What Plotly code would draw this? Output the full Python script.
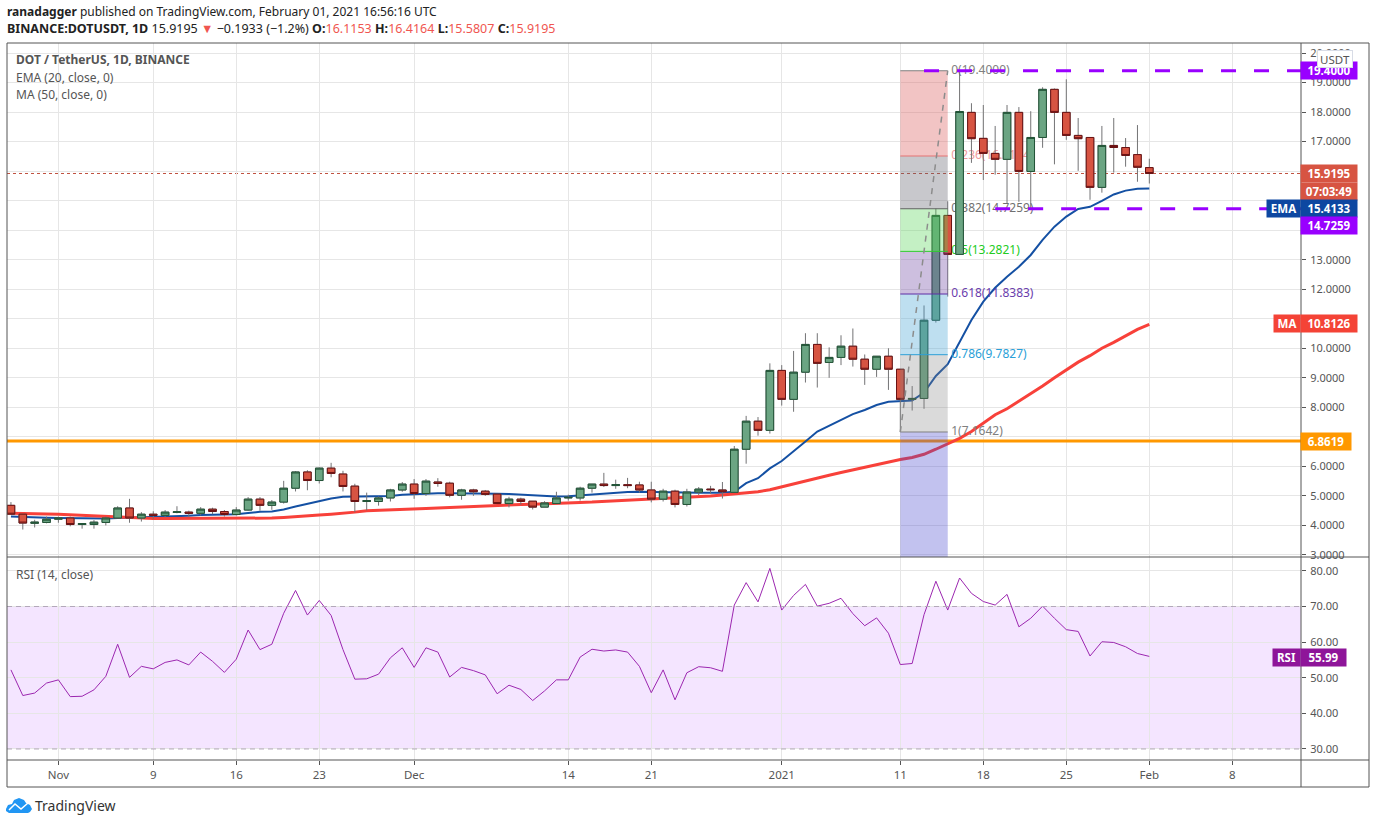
import pandas as pd
import plotly.graph_objects as go

# daily candles
dates = pd.date_range("2020-10-28", "2021-02-01", freq="D")

open_ = [4.68, 4.38, 4.07, 4.10, 4.21, 4.25, 4.03, 4.03, 4.10, 4.25,
         4.59, 4.25, 4.38, 4.34, 4.44, 4.45, 4.41, 4.55, 4.47, 4.37,
         4.52, 4.89, 4.68, 4.79, 5.26, 5.81, 5.52, 5.94, 5.74, 5.33,
         4.81, 4.81, 4.93, 5.20, 5.40, 5.08, 5.47, 5.43, 5.02, 5.20,
         5.16, 5.06, 4.74, 4.89, 4.82, 4.62, 4.74, 4.93, 4.93, 5.26,
         5.40, 5.35, 5.38, 5.37, 5.20, 4.89, 5.16, 4.71, 5.13, 5.23,
         5.20, 5.12, 6.58, 7.53, 7.22, 9.25, 8.27, 9.19, 10.13, 9.52,
         9.69, 10.07, 9.63, 9.29, 9.73, 9.29, 8.27, 8.30, 10.95, 14.50,
         13.18, 17.99, 17.11, 16.60, 16.40, 17.99, 15.99, 17.14, 18.77, 17.99,
         17.21, 17.14, 15.45, 16.87, 16.80, 16.56, 16.12]
high = [4.79, 4.38, 4.19, 4.30, 4.30, 4.30, 4.08, 4.18, 4.30, 4.65,
        4.90, 4.45, 4.48, 4.52, 4.65, 4.50, 4.62, 4.60, 4.52, 4.62,
        4.96, 4.96, 4.86, 5.51, 5.84, 5.87, 5.96, 6.12, 5.85, 5.41,
        5.11, 4.98, 5.24, 5.47, 5.57, 5.57, 5.60, 5.48, 5.24, 5.24,
        5.20, 5.06, 4.97, 4.94, 4.82, 4.82, 5.14, 5.04, 5.31, 5.40,
        5.78, 5.55, 5.61, 5.48, 5.48, 5.24, 5.21, 5.24, 5.30, 5.34,
        5.47, 6.69, 7.71, 7.67, 9.49, 9.43, 9.91, 10.51, 10.51, 10.03,
        10.44, 10.67, 9.79, 9.73, 10.00, 9.29, 8.72, 11.45, 14.73, 14.98,
        19.40, 18.30, 18.24, 17.53, 18.24, 18.17, 18.03, 18.84, 18.80, 19.11,
        17.80, 17.14, 17.53, 17.80, 17.12, 17.56, 16.42]
low = [4.38, 3.86, 3.93, 4.07, 4.09, 3.97, 3.89, 3.89, 4.00, 4.25,
       4.09, 4.13, 4.22, 4.27, 4.41, 4.28, 4.34, 4.38, 4.30, 4.34,
       4.50, 4.50, 4.53, 4.74, 5.15, 5.19, 5.42, 5.63, 5.15, 4.45,
       4.51, 4.67, 4.81, 5.14, 4.90, 5.00, 5.31, 4.95, 4.87, 5.00,
       5.00, 4.74, 4.61, 4.70, 4.54, 4.62, 4.74, 4.84, 4.84, 5.11,
       5.30, 5.24, 5.26, 5.11, 4.78, 4.81, 4.61, 4.64, 5.03, 5.07,
       4.91, 5.12, 6.09, 7.04, 7.11, 8.06, 7.85, 8.84, 8.67, 9.00,
       9.43, 9.38, 8.76, 9.03, 8.59, 7.16, 7.89, 7.95, 10.87, 11.75,
       13.18, 16.28, 15.70, 15.88, 14.91, 14.96, 14.74, 16.79, 16.23, 17.06,
       16.01, 15.03, 15.27, 15.95, 16.15, 15.64, 15.58]
close = [4.38, 4.08, 4.11, 4.21, 4.25, 4.03, 4.06, 4.11, 4.25, 4.59,
         4.25, 4.38, 4.34, 4.45, 4.46, 4.41, 4.55, 4.47, 4.37, 4.52,
         4.89, 4.68, 4.79, 5.26, 5.81, 5.52, 5.94, 5.76, 5.32, 4.81,
         4.84, 4.93, 5.20, 5.40, 5.08, 5.50, 5.42, 5.02, 5.20, 5.14,
         5.05, 4.74, 4.89, 4.81, 4.62, 4.76, 4.93, 4.95, 5.26, 5.40,
         5.35, 5.38, 5.35, 5.20, 4.89, 5.16, 4.71, 5.13, 5.23, 5.21,
         5.14, 6.58, 7.53, 7.22, 9.25, 8.27, 9.19, 10.13, 9.49, 9.69,
         10.07, 9.63, 9.29, 9.73, 9.29, 8.27, 8.30, 10.95, 14.50, 13.18,
         18.02, 17.10, 16.60, 16.40, 17.99, 15.99, 17.14, 18.77, 17.99, 17.21,
         17.10, 15.45, 16.87, 16.80, 16.53, 16.13, 15.92]

ema20 = [4.30, 4.28, 4.27, 4.26, 4.25, 4.24, 4.23, 4.22, 4.23, 4.25,
         4.26, 4.27, 4.28, 4.30, 4.31, 4.33, 4.35, 4.36, 4.37, 4.38,
         4.42, 4.46, 4.47, 4.54, 4.64, 4.73, 4.84, 4.91, 4.97, 4.98,
         4.97, 4.98, 5.00, 5.04, 5.06, 5.08, 5.09, 5.09, 5.09, 5.09,
         5.08, 5.07, 5.06, 5.04, 5.02, 4.99, 4.98, 4.99, 5.02, 5.05,
         5.07, 5.11, 5.13, 5.14, 5.13, 5.12, 5.11, 5.11, 5.11, 5.11,
         5.11, 5.14, 5.43, 5.60, 5.93, 6.18, 6.50, 6.84, 7.18, 7.38,
         7.59, 7.77, 7.91, 8.08, 8.19, 8.20, 8.23, 8.50, 9.06, 9.46,
         10.20, 10.96, 11.58, 12.05, 12.42, 12.76, 13.16, 13.67, 14.12, 14.46,
         14.72, 14.79, 14.99, 15.21, 15.34, 15.40, 15.41]
ma50 = [4.41, 4.41, 4.40, 4.39, 4.38, 4.36, 4.34, 4.32, 4.29, 4.27,
        4.25, 4.24, 4.23, 4.23, 4.23, 4.24, 4.24, 4.24, 4.25, 4.25,
        4.25, 4.25, 4.25, 4.27, 4.29, 4.32, 4.35, 4.38, 4.41, 4.45,
        4.50, 4.51, 4.53, 4.54, 4.56, 4.57, 4.59, 4.61, 4.63, 4.65,
        4.67, 4.69, 4.70, 4.71, 4.72, 4.74, 4.75, 4.77, 4.78, 4.79,
        4.81, 4.82, 4.84, 4.87, 4.90, 4.91, 4.93, 4.95, 4.97, 5.00,
        5.03, 5.07, 5.10, 5.14, 5.21, 5.31, 5.41, 5.52, 5.62, 5.70,
        5.79, 5.88, 5.97, 6.06, 6.15, 6.23, 6.30, 6.41, 6.58, 6.76,
        6.95, 7.18, 7.46, 7.75, 7.95, 8.20, 8.45, 8.72, 9.00, 9.27,
        9.53, 9.75, 10.00, 10.20, 10.43, 10.64, 10.81]
rsi = [52.2, 45.0, 45.7, 48.5, 49.4, 44.7, 44.8, 46.6, 50.4, 59.4,
       50.1, 53.2, 52.5, 54.3, 55.0, 53.6, 57.2, 54.6, 51.5, 55.2,
       63.4, 57.9, 59.4, 68.1, 74.5, 67.6, 71.7, 67.5, 57.9, 49.6,
       49.7, 51.0, 55.6, 58.4, 52.9, 58.4, 57.2, 50.2, 52.9, 52.0,
       50.8, 45.5, 47.9, 46.7, 43.6, 46.3, 49.4, 49.4, 55.8, 58.0,
       57.5, 57.8, 57.2, 53.2, 45.8, 52.2, 43.8, 51.4, 53.1, 52.8,
       51.8, 70.4, 76.7, 71.3, 80.7, 69.0, 73.1, 76.2, 70.1, 70.9,
       72.3, 68.0, 64.6, 66.8, 62.5, 53.7, 54.0, 67.7, 77.1, 69.0,
       78.0, 73.7, 71.4, 70.4, 73.4, 64.3, 66.7, 70.1, 66.7, 63.5,
       63.0, 56.1, 60.1, 59.9, 58.7, 56.8, 55.99]

# fib retracement drawn by the author
fib_start = "2021-01-11"
fib_end = "2021-01-15"
fib_label_at = "2021-01-15 07:00"
fib_ratios = ["0", "0.236", "0.382", "0.5", "0.618", "0.786", "1"]
fib_prices = [19.4, 16.5124, 14.7259, 13.2821, 11.8383, 9.7827, 7.1642]
fib_line_colors = ["#808080", "#E57373", "#606060", "#2ECC2E", "#5E2CA5", "#2A9FD8", "#808080"]
fib_text_colors = ["#808080", "#F09A9A", "#707070", "#22CC22", "#6A3DAD", "#2A9FD8", "#808080"]
fib_band_colors = ["rgba(218,86,86,.35)", "rgba(98,98,109,.35)", "rgba(87,212,87,.35)",
                   "rgba(112,73,164,.35)", "rgba(69,164,212,.35)", "rgba(132,132,132,.3)",
                   "rgba(69,69,206,.33)"]

resistance = 19.4
resistance_start = "2021-01-13"
support = 14.7259
support_start = "2021-01-19"
horizontal = 6.8619

price_ticks = list(range(3, 21))
rsi_ticks = [30, 40, 50, 60, 70, 80]
x_tickvals = ["2020-11-01", "2020-11-09", "2020-11-16", "2020-11-23", "2020-12-01", "2020-12-14",
              "2020-12-21", "2021-01-01", "2021-01-11", "2021-01-18", "2021-01-25", "2021-02-01",
              "2021-02-08"]
x_ticktext = ["Nov", "9", "16", "23", "Dec", "14", "21", "2021", "11", "18", "25", "Feb", "8"]
x_range = ["2020-10-27 16:00", "2021-02-13 19:00"]

W, H = 1376, 824
# the page draws the paper a little short of the window, pixel positions are worked out from that
PAPER_H = 819
LEFT, RIGHT, OUTER = 7, 1301, 1369
TOP, SPLIT, BOTTOM, AXIS_END = 43, 557, 760, 787
FONT = "Noto Sans"
GREY = "#555555"
GRID = "#E6E6E6"
PURPLE = "#9900FF"


def px_x(x):
    return x / W


def px_y(y):
    return 1 - y / PAPER_H


fig = go.Figure()

# base subplot holds what sits under the candles
fig.add_trace(go.Scatter(x=x_range, y=[horizontal, horizontal], mode="lines",
                         line=dict(color="#FF9800", width=3), yaxis="y"))
fig.add_trace(go.Scatter(x=dates, y=ema20, mode="lines", line=dict(color="#1450A3", width=2), yaxis="y"))
fig.add_trace(go.Scatter(x=dates, y=ma50, mode="lines", line=dict(color="#F8413A", width=3), yaxis="y"))
fig.add_trace(go.Scatter(x=[fib_label_at] * len(fib_prices), y=fib_prices, mode="text",
                         text=[f"{r}({p:.4f})" for r, p in zip(fib_ratios, fib_prices)],
                         textposition="middle right",
                         textfont=dict(family=FONT, size=12, color=fib_text_colors), yaxis="y"))

# wicks and bodies are separate, wicks are grey in the original
body_high = [max(o, c) for o, c in zip(open_, close)]
body_low = [min(o, c) for o, c in zip(open_, close)]
fig.add_trace(go.Candlestick(x=dates, open=open_, high=high, low=low, close=close, yaxis="y3",
                             increasing=dict(line=dict(color="#737375", width=1), fillcolor="#737375"),
                             decreasing=dict(line=dict(color="#737375", width=1), fillcolor="#737375")))
fig.add_trace(go.Candlestick(x=dates, open=open_, high=body_high, low=body_low, close=close, yaxis="y3",
                             increasing=dict(line=dict(color="#225437", width=1), fillcolor="#6BA583"),
                             decreasing=dict(line=dict(color="#6B1213", width=1), fillcolor="#D75442")))

fig.add_trace(go.Scatter(x=dates, y=rsi, mode="lines", line=dict(color="#9C27B0", width=1), yaxis="y2"))

shapes = []

# last price dotted line
shapes.append(dict(type="line", xref="paper", x0=px_x(LEFT), x1=px_x(RIGHT), yref="y",
                   y0=close[-1], y1=close[-1], layer="below",
                   line=dict(color="#C0503F", width=1, dash="dot")))

# RSI band
shapes.append(dict(type="rect", xref="paper", x0=px_x(LEFT), x1=px_x(RIGHT), yref="y2",
                   y0=rsi_ticks[0], y1=rsi_ticks[4], layer="below", line_width=0,
                   fillcolor="rgba(150,0,255,.1)"))
for lvl in (rsi_ticks[0], rsi_ticks[4]):
    shapes.append(dict(type="line", xref="paper", x0=px_x(LEFT), x1=px_x(RIGHT), yref="y2",
                       y0=lvl, y1=lvl, line=dict(color="#B3A8BA", width=1, dash="5px,4px")))

# fib bands, on top of the candles
band_edges = fib_prices + [price_ticks[0] - 0.07]
for i, col in enumerate(fib_band_colors):
    shapes.append(dict(type="rect", xref="x", yref="y", x0=fib_start, x1=fib_end,
                       y0=band_edges[i], y1=band_edges[i + 1], line_width=0, fillcolor=col, layer="above"))
for p, col in zip(fib_prices, fib_line_colors):
    shapes.append(dict(type="line", xref="x", yref="y", x0=fib_start, x1=fib_end, y0=p, y1=p,
                       line=dict(color=col, width=1), layer="above"))
shapes.append(dict(type="line", xref="x", yref="y", x0=fib_start, x1=fib_end,
                   y0=fib_prices[-1], y1=fib_prices[0], layer="above",
                   line=dict(color="#8C8C8C", width=1.5, dash="6px,6px")))

# purple dashed levels
for start, lvl in ((resistance_start, resistance), (support_start, support)):
    shapes.append(dict(type="line", xref="x", yref="y", x0=start, x1=x_range[1], y0=lvl, y1=lvl,
                       line=dict(color=PURPLE, width=3, dash="15px,18px"), layer="above"))

# panel frame
frame = [(LEFT, TOP, OUTER, TOP), (LEFT, SPLIT, OUTER, SPLIT), (LEFT, BOTTOM, OUTER, BOTTOM),
         (LEFT, AXIS_END, OUTER, AXIS_END), (LEFT, TOP, LEFT, AXIS_END), (RIGHT, TOP, RIGHT, AXIS_END),
         (OUTER, TOP, OUTER, AXIS_END)]
for x0, y0, x1, y1 in frame:
    shapes.append(dict(type="line", xref="paper", yref="paper", x0=px_x(x0), x1=px_x(x1),
                       y0=px_y(y0), y1=px_y(y1), line=dict(color=GREY, width=1), layer="above"))


def pp(*pts):
    return " ".join(f"{c}{px_x(x):.5f},{px_y(y):.5f}" for c, x, y in pts)


# TradingView cloud logo
cloud = "M{:.5f},{:.5f} ".format(px_x(6), px_y(809)) + pp(
    ("L", 8, 805), ("L", 12, 804), ("L", 14, 800), ("L", 19, 798), ("L", 24, 800), ("L", 26, 803),
    ("L", 30, 805), ("L", 32, 809), ("L", 30, 812), ("L", 28, 813), ("L", 9, 813), ("L", 6, 811)) + " Z"
zig = "M{:.5f},{:.5f} ".format(px_x(9), px_y(810)) + pp(("L", 15, 804), ("L", 21, 809), ("L", 28, 803))
shapes.append(dict(type="path", xref="paper", yref="paper", path=cloud, fillcolor="#2196F3", line_width=0))
shapes.append(dict(type="path", xref="paper", yref="paper", path=zig, line=dict(color="white", width=1.5)))

ann = []


def label(x, y, text, size=12, color=GREY, **kw):
    ann.append(dict(xref="paper", yref="paper", x=px_x(x), y=px_y(y), text=text, showarrow=False,
                    xanchor=kw.pop("xanchor", "left"), yanchor="middle", borderpad=0,
                    font=dict(family=FONT, size=size, color=color), **kw))


def chip(x0, x1, y, text, color):
    label((x0 + x1) / 2, y, f"<b>{text}</b>", size=11.5, color="white", xanchor="center",
          width=x1 - x0, height=17, bgcolor=color, align="center")


RED_TXT = "#F05650"
label(6, 12, "<b>ranadagger</b> published on TradingView.com, February 01, 2021 16:56:16 UTC", color="#222222")
label(6, 29, "<b>BINANCE:DOTUSDT, 1D</b> 15.9195 "
      f"<span style='color:{RED_TXT}'>▼</span> −0.1933 (−1.2%) "
      f"<b>O:</b><span style='color:{RED_TXT}'>16.1153</span> "
      f"<b>H:</b><span style='color:{RED_TXT}'>16.4164</span> "
      f"<b>L:</b><span style='color:{RED_TXT}'>15.5807</span> "
      f"<b>C:</b><span style='color:{RED_TXT}'>15.9195</span>", size=12.5, color="#222222")
label(15, 60, "<b>DOT / TetherUS, 1D, BINANCE</b>")
label(15, 77, "EMA (20, close, 0)")
label(15, 94, "MA (50, close, 0)")
label(15, 574, "RSI (14, close)")
label(34, 805, "TradingView", size=14, color="#333333")

VAL0, VAL1 = RIGHT, 1357
chip(VAL0, VAL1, 70, "19.4000", PURPLE)
chip(VAL0, VAL1, 173, "15.9195", "#D75442")
chip(VAL0, VAL1, 191, "07:03:49", "#D75442")
chip(VAL0, VAL1, 208, "15.4133", "#0D47A1")
chip(1267, 1300, 208, "EMA", "#0D47A1")
chip(VAL0, VAL1, 225, "14.7259", PURPLE)
chip(VAL0, 1351, 441, "6.8619", "#FF9800")
chip(VAL0, VAL1, 324, "10.8126", "#F44336")
chip(1274, 1300, 324, "MA", "#F44336")
chip(VAL0, 1346, 657, "55.99", "#8E1599")
chip(1273, 1300, 657, "RSI", "#8E1599")
label(1334.5, 59, "USDT", size=11.5, xanchor="center", width=34, height=16, bgcolor="white",
      bordercolor="#D8DCE6", borderwidth=1, align="center")

price_range = [2.93, 20.34]
axis_common = dict(side="right", showline=False, zeroline=False, gridcolor=GRID, gridwidth=1, ticks="outside",
                   ticklen=4, tickcolor=GREY, ticklabelstandoff=2,
                   tickfont=dict(family=FONT, size=11, color=GREY), anchor="x")

fig.update_layout(
    width=W, height=H, margin=dict(l=0, r=0, t=0, b=0, pad=0), showlegend=False,
    paper_bgcolor="white", plot_bgcolor="white", shapes=shapes, annotations=ann, hovermode=False,
    boxgap=0.2, boxgroupgap=0.2,
    xaxis=dict(domain=[px_x(LEFT), px_x(RIGHT)], type="date", range=x_range,
               anchor="y2", tickmode="array", tickvals=x_tickvals, ticktext=x_ticktext, gridcolor=GRID,
               ticks="outside", ticklen=4, tickcolor=GREY, tickfont=dict(family=FONT, size=11.5, color=GREY),
               rangeslider=dict(visible=False), showline=False, zeroline=False),
    yaxis=dict(domain=[px_y(SPLIT), px_y(TOP)], range=price_range, tickmode="array", tickvals=price_ticks,
               tickformat=".4f", **axis_common),
    yaxis2=dict(domain=[px_y(BOTTOM), px_y(SPLIT)], range=[26.9, 83.9], tickmode="array", tickvals=rsi_ticks,
                tickformat=".2f", **axis_common),
    yaxis3=dict(overlaying="y", range=price_range, visible=False, anchor="x", side="right"),
)

fig.write_html("out.html", config={"displayModeBar": False},
               post_script="document.body.style.margin='0';document.body.style.overflow='hidden';")
